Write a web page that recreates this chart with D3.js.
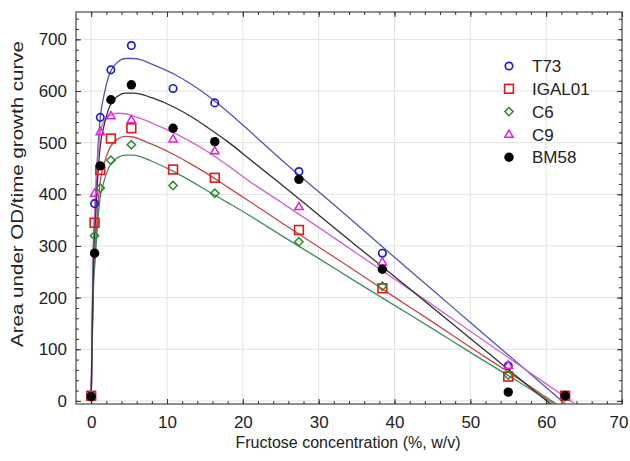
<!DOCTYPE html>
<html>
<head>
<meta charset="utf-8">
<script src="https://cdn.jsdelivr.net/npm/d3@7/dist/d3.min.js"></script>
<style>
  body { margin: 0; background: #fff; }
  text { font-family: "Liberation Sans", Arial, sans-serif; fill: #222; }
</style>
</head>
<body>
<svg id="chart" width="630" height="461"></svg>
<script>

// measured points (fructose %, area under OD/time curve)
var conc   = [0, 0.45, 1.2, 2.6, 5.3, 10.8, 16.3, 27.4, 38.4, 55, 62.5]
var t73    = [10, 382, 549, 641, 688, 605, 577, 444, 286, 68, 10]
var igal01 = [10, 345, 447, 508, 528, 448, 432, 331, 218, 47, 10]
var c6     = [8, 320, 412, 466, 496, 417, 402, 308, 222, 50, 8]
var c9     = [10, 402, 521, 552, 544, 507, 484, 376, 269, 69, 10]
var bm58   = [8, 286, 455, 583, 612, 528, 502, 429, 255, 17, 10]

// fitted curves at these x
var fit_x      = [0, 0.15, 0.3, 0.55, 0.9, 1.2, 1.65, 2.3, 3.5, 4.5, 5.5, 6.5, 8, 10.9, 13, 15.3, 18, 21, 25, 30, 35, 40, 45, 50, 55, 60, 65]
var fit_t73    = [0, 165, 300, 383, 492, 549, 589, 628, 656, 663, 663, 661, 652, 633, 615, 592, 560, 521, 468, 405, 342, 278, 215, 152, 89, 26, -37]
var fit_igal01 = [0, 128, 232, 297, 379, 425, 456, 485, 507, 512, 511, 506, 497, 477, 460, 440, 414, 385, 346, 298, 250, 201, 153, 104, 56, 7, -41]
var fit_c6     = [0, 118, 215, 276, 353, 395, 423, 451, 471, 476, 476, 473, 464, 444, 427, 407, 384, 358, 321, 276, 230, 185, 140, 94, 49, 4, -42]
var fit_c9     = [0, 170, 300, 400, 480, 520, 540, 552, 557, 556, 552, 547, 538, 519, 503, 483, 456, 424, 385, 336, 286, 236, 186, 135, 84, 33, -18]
var fit_bm58   = [0, 148, 268, 345, 441, 494, 530, 565, 590, 596, 596, 594, 587, 569, 552, 530, 502, 467, 420, 360, 300, 241, 181, 121, 61, 1, -59]

var series_names = ["T73", "IGAL01", "C6", "C9", "BM58"]
var x_ticks = [0, 10, 20, 30, 40, 50, 60, 70]
var y_ticks = [0, 100, 200, 300, 400, 500, 600, 700]

var series = [
  {name: "T73",    pts: t73,    fit: fit_t73,    mark: "circle",   col: "#1c1cc8", line: "#5454b4"},
  {name: "IGAL01", pts: igal01, fit: fit_igal01, mark: "square",   col: "#e01818", line: "#c44848"},
  {name: "C6",     pts: c6,     fit: fit_c6,     mark: "diamond",  col: "#2e8a2e", line: "#3e8c62"},
  {name: "C9",     pts: c9,     fit: fit_c9,     mark: "triangle", col: "#e020e0", line: "#d064d0"},
  {name: "BM58",   pts: bm58,   fit: fit_bm58,   mark: "dot",      col: "#000000", line: "#303030"}
]

var plot_l = 76, plot_r = 622, plot_t = 12, plot_b = 404
var svg = d3.select("#chart")

var x = d3.scaleLinear().domain([-2, 70]).range([plot_l, plot_r])
var y = d3.scaleLinear().domain([-6, 753]).range([plot_b, plot_t])

svg.append("defs").append("clipPath").attr("id", "plotclip")
  .append("rect")
    .attr("x", plot_l).attr("y", plot_t)
    .attr("width", plot_r - plot_l).attr("height", plot_b - plot_t)

// grid
var grid = svg.append("g")
grid.selectAll("line.gx").data(x_ticks.filter(function(d){ return d < 70 })).enter()
  .append("line")
    .attr("x1", function(d){ return x(d) }).attr("x2", function(d){ return x(d) })
    .attr("y1", plot_t).attr("y2", plot_b)
    .attr("stroke", "#e2e2e2").attr("stroke-width", 1)
grid.selectAll("line.gy").data(y_ticks).enter()
  .append("line")
    .attr("y1", function(d){ return y(d) }).attr("y2", function(d){ return y(d) })
    .attr("x1", plot_l).attr("x2", plot_r)
    .attr("stroke", "#e2e2e2").attr("stroke-width", 1)

// axes, ticks pointing inside on all four sides
var x_minor = d3.range(0, 71, 2)
var y_minor = d3.range(0, 741, 20)

svg.append("g").attr("transform", "translate(0," + plot_b + ")")
  .call(d3.axisBottom(x).tickValues(x_minor).tickSize(-3).tickFormat(""))
var x_axis = svg.append("g").attr("transform", "translate(0," + plot_b + ")")
  .call(d3.axisBottom(x).tickValues(x_ticks).tickSize(-5).tickPadding(12).tickFormat(d3.format("d")))
svg.append("g").attr("transform", "translate(0," + plot_t + ")")
  .call(d3.axisTop(x).tickValues(x_minor).tickSize(-3).tickFormat(""))
svg.append("g").attr("transform", "translate(0," + plot_t + ")")
  .call(d3.axisTop(x).tickValues(x_ticks).tickSize(-5).tickFormat(""))
svg.append("g").attr("transform", "translate(" + plot_l + ",0)")
  .call(d3.axisLeft(y).tickValues(y_minor).tickSize(-3).tickFormat(""))
svg.append("g").attr("transform", "translate(" + plot_l + ",0)")
  .call(d3.axisLeft(y).tickValues(y_ticks).tickSize(-5).tickPadding(9).tickFormat(d3.format("d")))
svg.append("g").attr("transform", "translate(" + plot_r + ",0)")
  .call(d3.axisRight(y).tickValues(y_minor).tickSize(-3).tickFormat(""))
svg.append("g").attr("transform", "translate(" + plot_r + ",0)")
  .call(d3.axisRight(y).tickValues(y_ticks).tickSize(-5).tickFormat(""))

svg.selectAll(".domain").remove()
svg.selectAll(".tick line").attr("stroke", "#333")
svg.selectAll(".tick text").style("font-size", "17px").attr("fill", "#222")
// keep the last x label inside the picture
x_axis.selectAll(".tick text").filter(function(d){ return d == 70 }).attr("text-anchor", "end").attr("dx", "6")

svg.append("rect")
  .attr("x", plot_l).attr("y", plot_t)
  .attr("width", plot_r - plot_l).attr("height", plot_b - plot_t)
  .attr("fill", "none").attr("stroke", "#222").attr("stroke-width", 1)

// fitted curves
var line = d3.line()
  .x(function(d){ return x(d[0]) })
  .y(function(d){ return y(d[1]) })
  .curve(d3.curveMonotoneX)

var curves = svg.append("g").attr("clip-path", "url(#plotclip)")
series.forEach(function(s){
  curves.append("path")
    .attr("d", line(fit_x.map(function(v, i){ return [v, s.fit[i]] })))
    .attr("fill", "none")
    .attr("stroke", s.line)
    .attr("stroke-width", 1.3)
})

function draw_mark(g, kind, col, cx, cy){
  if (kind == "circle") {
    g.append("circle").attr("cx", cx).attr("cy", cy).attr("r", 3.7)
      .attr("fill", "none").attr("stroke", col).attr("stroke-width", 1.7)
  } else if (kind == "square") {
    g.append("rect").attr("x", cx - 4.4).attr("y", cy - 4.4).attr("width", 8.8).attr("height", 8.8)
      .attr("fill", "none").attr("stroke", col).attr("stroke-width", 1.6)
  } else if (kind == "diamond") {
    g.append("path").attr("d", d3.symbol().type(d3.symbolDiamond2).size(44)())
      .attr("transform", "translate(" + cx + "," + cy + ")")
      .attr("fill", "none").attr("stroke", col).attr("stroke-width", 1.5)
  } else if (kind == "triangle") {
    g.append("path").attr("d", d3.symbol().type(d3.symbolTriangle2).size(50)())
      .attr("transform", "translate(" + cx + "," + (cy + 0.5) + ")")
      .attr("fill", "none").attr("stroke", col).attr("stroke-width", 1.5)
  } else {
    g.append("circle").attr("cx", cx).attr("cy", cy).attr("r", 4.7)
      .attr("fill", col)
  }
}

// data points
var marks = svg.append("g")
series.forEach(function(s){
  s.pts.forEach(function(v, i){
    draw_mark(marks, s.mark, s.col, x(conc[i]), y(v))
  })
})

// legend
var legend = svg.append("g")
series.forEach(function(s, i){
  var ly = 66 + i * 22.8
  draw_mark(legend, s.mark, s.col, 509, ly)
  legend.append("text")
    .attr("x", 532).attr("y", ly)
    .attr("dy", "0.36em")
    .style("font-size", "17px")
    .text(series_names[i])
})

// axis titles
svg.append("text")
  .attr("x", 348).attr("y", 448)
  .attr("text-anchor", "middle")
  .style("font-size", "16px")
  .text("Fructose concentration (%, w/v)")

svg.append("text")
  .attr("transform", "translate(23,194) rotate(-90)")
  .attr("text-anchor", "middle")
  .attr("textLength", 306)
  .attr("lengthAdjust", "spacingAndGlyphs")
  .style("font-size", "17px")
  .text("Area under OD/time growth curve")

</script>
</body>
</html>
